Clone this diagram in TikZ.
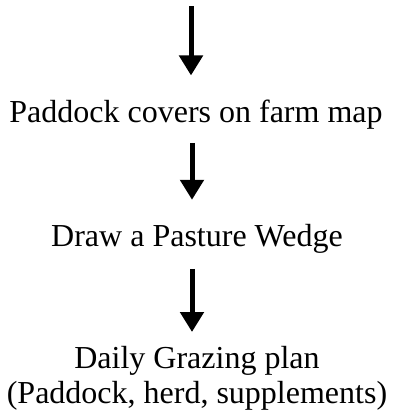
\documentclass[tikz,border=0pt]{standalone}
\usepackage{fontspec}
\setmainfont{Liberation Serif}
\usetikzlibrary{arrows.meta}

\begin{document}
\begin{tikzpicture}[x=1pt,y=1pt,
  steptext/.style={font=\fontsize{32}{35}\selectfont, inner sep=0pt, outer sep=0pt, align=center},
  flowarrow/.style={line width=5pt, -{Triangle[width=23pt,length=20pt]}}]
  \useasboundingbox (0,0) rectangle (392,-415);
  \coordinate (top) at (191,-6);
  \node[steptext, anchor=base] (covers) at (196,-122) {Paddock covers on farm map};
  \node[steptext, anchor=base] (wedge) at (197,-246) {Draw a Pasture Wedge};
  \node[steptext, anchor=north] (plan) at (197,-346) {Daily Grazing plan\\(Paddock, herd, supplements)};
  % arrows between the steps
  \draw[flowarrow, shorten >=24pt] (top) -- (top |- covers.north);
  \draw[flowarrow, shorten <=14pt, shorten >=24pt] ([xshift=-4pt]covers.south) -- ([xshift=-5pt]wedge.north);
  \draw[flowarrow, shorten <=16pt, shorten >=14pt] ([xshift=-5pt]wedge.south) -- ([xshift=-5pt]plan.north);
\end{tikzpicture}
\end{document}
